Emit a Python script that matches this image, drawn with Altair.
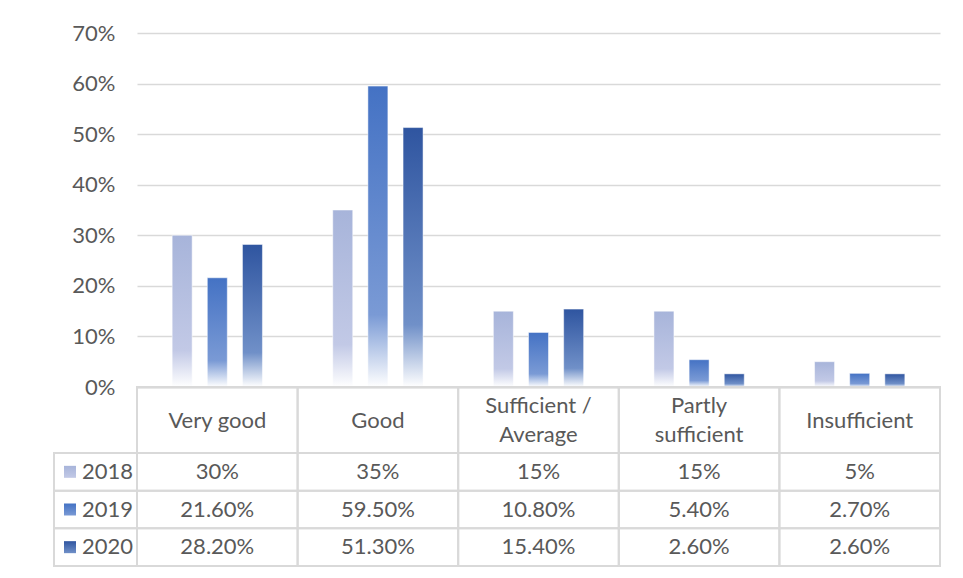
import json
import altair as alt
import pandas as pd

# ---------------- data ----------------
categories = ["Very good", "Good", "Sufficient / Average", "Partly sufficient", "Insufficient"]
header_lines = [["Very good"], ["Good"], ["Sufficient /", "Average"], ["Partly", "sufficient"], ["Insufficient"]]
years = ["2018", "2019", "2020"]
values_2018 = [30, 35, 15, 15, 5]
values_2019 = [21.6, 59.5, 10.8, 5.4, 2.7]
values_2020 = [28.2, 51.3, 15.4, 2.6, 2.6]
table_2018 = ["30%", "35%", "15%", "15%", "5%"]
table_2019 = ["21.60%", "59.50%", "10.80%", "5.40%", "2.70%"]
table_2020 = ["28.20%", "51.30%", "15.40%", "2.60%", "2.60%"]
y_ticks = [0, 0.1, 0.2, 0.3, 0.4, 0.5, 0.6, 0.7]

series = {"2018": values_2018, "2019": values_2019, "2020": values_2020}
tables = {"2018": table_2018, "2019": table_2019, "2020": table_2020}

rows = []
for yr in years:
    for c, v, lab in zip(categories, series[yr], tables[yr]):
        rows.append({"cat": c, "year": yr, "value": v / 100.0, "label": lab})
df = pd.DataFrame(rows)
df_cats = pd.DataFrame({"cat": categories})
df_years = pd.DataFrame({"year": years})

# ---------------- style ----------------
FONT = "Lato"
FS = 22
TXT = "#595959"
GRID = "#D9D9D9"

top_col = {"2018": "#A7B4DA", "2019": "#4472C4", "2020": "#2F55A0"}
mid_col = {"2018": "#C2C9E6", "2019": "#7A9AD5", "2020": "#7090C8"}


def bar_grad(yr):
    return alt.Gradient(
        gradient="linear",
        stops=[
            alt.GradientStop(color=top_col[yr], offset=0),
            alt.GradientStop(color=mid_col[yr], offset=0.76),
            alt.GradientStop(color="#FFFFFF", offset=1),
        ],
        x1=0, x2=0, y1=0, y2=1,
    )


def leg_grad(yr):
    return alt.Gradient(
        gradient="linear",
        stops=[
            alt.GradientStop(color=top_col[yr], offset=0),
            alt.GradientStop(color=mid_col[yr], offset=1),
        ],
        x1=0, x2=0, y1=0, y2=1,
    )


label_map = json.dumps(dict(zip(categories, header_lines)))
multi_line = json.dumps([c for c, l in zip(categories, header_lines) if len(l) > 1])

xaxis = alt.Axis(
    orient="bottom", offset=-179, domain=True, domainColor=GRID, domainWidth=2,
    ticks=False, tickSize=0, grid=False, labelAngle=0,
    labelBaseline={"condition": {"test": f"indexof({multi_line}, datum.value) >= 0",
                                 "value": "line-bottom"},
                   "value": "middle"},
    labelPadding=33, labelLineHeight=29, labelFont=FONT, labelFontSize=FS,
    labelColor=TXT, labelLimit=0, title=None,
    labelExpr=f"{label_map}[datum.label]",
)
xenc = alt.X("cat:N", sort=categories,
             scale=alt.Scale(domain=categories, paddingInner=0, paddingOuter=0),
             axis=xaxis)
xoff = alt.XOffset("year:N", scale=alt.Scale(domain=years, paddingInner=0.431, paddingOuter=1))
ybar = alt.Y(
    "value:Q",
    scale=alt.Scale(domain=[0, 0.7], range=[354, 0], nice=False, zero=True),
    axis=alt.Axis(values=y_ticks, format=".0%", grid=True, gridColor=GRID, gridWidth=1.5,
                  domain=False, ticks=False, labelFont=FONT, labelFontSize=FS,
                  labelColor=TXT, labelPadding=22, title=None),
)
yrow = alt.Y("year:N", sort=years,
             scale=alt.Scale(domain=years, range=[420, 533], paddingInner=0, paddingOuter=0),
             axis=None)

# ---------------- bars ----------------
bar_layers = [
    alt.Chart(df).transform_filter(alt.datum.year == yr)
    .mark_bar(color=bar_grad(yr), stroke="#FFFFFF", strokeWidth=1, strokeOpacity=0.5)
    .encode(x=xenc, xOffset=xoff, y=ybar)
    for yr in years
]
bars = alt.layer(*bar_layers)

# ---------------- table ----------------
cell_style = dict(fill="#FFFFFF", fillOpacity=0, stroke=GRID, strokeWidth=2)
header_cells = alt.Chart(df_cats).mark_rect(**cell_style).encode(
    x=xenc, y=alt.value(354), y2=alt.value(420))
data_cells = alt.Chart(df).mark_rect(**cell_style).encode(x=xenc, y=yrow)
data_text = alt.Chart(df).mark_text(font=FONT, fontSize=FS, color=TXT).encode(
    x=xenc, y=yrow, text="label:N")
legend_cells = alt.Chart(df_years).mark_rect(**cell_style).encode(
    x=alt.value(-83), x2=alt.value(0), y=yrow)
legend_text = alt.Chart(df_years).mark_text(font=FONT, fontSize=FS, color=TXT, align="left").encode(
    x=alt.value(-55), y=yrow, text="year:N")
legend_keys = [
    alt.Chart(df_years).transform_filter(alt.datum.year == yr)
    .mark_square(size=144, color=leg_grad(yr), opacity=1)
    .encode(x=alt.value(-67), y=yrow)
    for yr in years
]
table = alt.layer(header_cells, data_cells, data_text, legend_cells, legend_text, *legend_keys)

chart = (
    alt.layer(bars, table)
    .resolve_scale(y="independent")
    .properties(width=803, height=533, padding={"left": 45, "top": 14, "right": 5, "bottom": 5},
                background="#FFFFFF")
    .configure_view(strokeWidth=0)
)

chart.save("out.html", embed_options={"renderer": "svg", "actions": False})
